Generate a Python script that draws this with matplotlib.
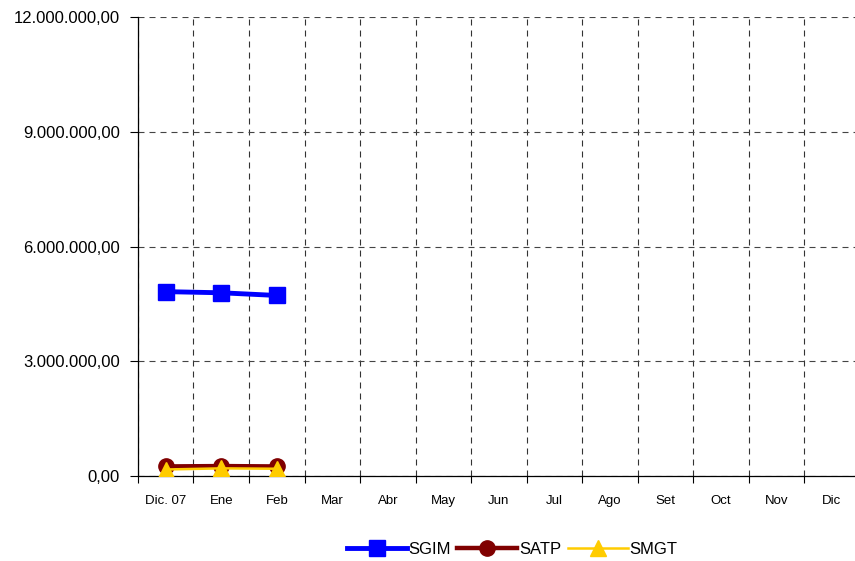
import matplotlib
matplotlib.use('Agg')
import matplotlib.pyplot as plt
from matplotlib.ticker import FuncFormatter, FixedLocator

plt.rcParams['font.family'] = ['Liberation Sans', 'DejaVu Sans']

months = ['Dic. 07', 'Ene', 'Feb', 'Mar', 'Abr', 'May', 'Jun', 'Jul',
          'Ago', 'Set', 'Oct', 'Nov', 'Dic']
sgim = [4820000, 4790000, 4720000]
satp = [250000, 260000, 250000]
smgt = [170000, 200000, 190000]
yticks = [0, 3000000, 6000000, 9000000, 12000000]


def fmt(v, pos):
    s = '{:,.2f}'.format(v)
    return s.replace(',', 'X').replace('.', ',').replace('X', '.')


fig = plt.figure(figsize=(8.55, 5.61), dpi=100)
ax = fig.add_axes([0.1614, 0.1515, 0.8439, 0.8182])

x = range(len(sgim))
ax.plot(x, sgim, color='#0000ff', lw=3.5, marker='s', ms=11, label='SGIM', zorder=5)
ax.plot(x, satp, color='#800000', lw=3.2, marker='o', ms=11, label='SATP', zorder=4)
ax.plot(x, smgt, color='#ffcc00', lw=1.8, marker='^', ms=12, label='SMGT', zorder=6)

ax.set_xlim(-0.5, len(months) - 0.5)
ax.set_ylim(0, 12000000)
ax.set_xticks(range(len(months)))
ax.set_xticklabels(months, fontsize=9.5)
ax.xaxis.set_minor_locator(FixedLocator([i + 0.5 for i in range(-1, len(months))]))
ax.tick_params(axis='x', which='major', length=0, pad=14)
ax.tick_params(axis='x', which='minor', length=5, direction='out', width=0.8)
ax.set_yticks(yticks)
ax.yaxis.set_major_formatter(FuncFormatter(fmt))
ax.tick_params(axis='y', length=6, width=0.8, labelsize=12, pad=7)

ax.grid(which='minor', axis='x', color='#333333', ls=(0, (5.4, 4.5)), lw=0.8)
ax.grid(which='major', axis='y', color='#444444', ls=(0, (5.4, 4.5)), lw=0.8)
ax.set_axisbelow(True)
ax.spines['top'].set_visible(False)
ax.spines['right'].set_visible(False)
ax.spines['left'].set_linewidth(0.9)
ax.spines['bottom'].set_linewidth(0.9)

fig.legend(loc='center', bbox_to_anchor=(512 / 855, 1 - 549 / 561), ncol=3,
           frameon=False, fontsize=12, handlelength=3.6, handletextpad=0.1,
           columnspacing=0.4)

fig.savefig('out.png', dpi=100)
